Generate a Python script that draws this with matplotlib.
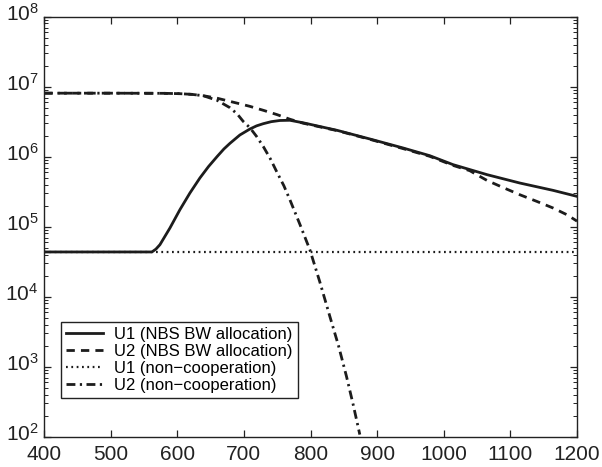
import matplotlib
matplotlib.use("Agg")
import matplotlib.pyplot as plt
from matplotlib.ticker import FixedLocator, FixedFormatter, LogLocator, NullFormatter
import matplotlib.transforms as mtransforms
import numpy as np

plt.rcParams['font.family'] = ['Liberation Sans', 'DejaVu Sans']
plt.rcParams['mathtext.fontset'] = 'custom'
plt.rcParams['mathtext.rm'] = 'Liberation Sans'

# U1 (NBS BW allocation): x and log10(utility)
u1_nbs_x = [400, 500, 562, 568, 574, 589, 604, 619, 634, 647, 660, 670, 679, 694, 709,
            719, 729, 741, 754, 769, 789, 840, 889, 939, 979, 1014, 1065, 1114, 1164, 1200]
u1_nbs_log = [4.639, 4.639, 4.639, 4.68, 4.743, 4.981, 5.243, 5.481, 5.696, 5.86,
              6.004, 6.11, 6.19, 6.31, 6.395, 6.44, 6.471, 6.50, 6.517, 6.52,
              6.484, 6.376, 6.253, 6.124, 6.014, 5.886, 5.743, 5.624, 5.519, 5.433]

# U2 (NBS BW allocation)
u2_nbs_x = [400, 500, 580, 604, 622, 639, 660, 679, 694, 709, 730, 750, 769, 789,
            840, 889, 939, 979, 1014, 1039, 1065, 1090, 1114, 1140, 1164, 1185, 1200]
u2_nbs_log = [6.907, 6.907, 6.905, 6.90, 6.89, 6.871, 6.835, 6.79, 6.755, 6.719,
              6.66, 6.60, 6.535, 6.478, 6.372, 6.248, 6.115, 6.005, 5.875, 5.80,
              5.66, 5.555, 5.457, 5.36, 5.267, 5.17, 5.079]

# U1 (non-cooperation)
u1_nc_x = [400, 1200]
u1_nc_log = [4.639, 4.639]

# U2 (non-cooperation)
u2_nc_x = [400, 500, 580, 604, 622, 639, 660, 679, 690, 699, 709, 719, 729, 740,
           750, 760, 769, 784, 799, 814, 829, 842, 854, 864, 874]
u2_nc_log = [6.907, 6.907, 6.905, 6.90, 6.89, 6.871, 6.804, 6.70, 6.61, 6.504,
             6.414, 6.29, 6.147, 5.965, 5.771, 5.585, 5.386, 5.035, 4.671, 4.21,
             3.719, 3.30, 2.861, 2.46, 2.03]

labels = ['U1 (NBS BW allocation)', 'U2 (NBS BW allocation)',
          'U1 (non\u2212cooperation)', 'U2 (non\u2212cooperation)']

xticks = [400, 500, 600, 700, 800, 900, 1000, 1100, 1200]
ydecades = [2, 3, 4, 5, 6, 7, 8]

col = '#1c1c1c'
fig = plt.figure(figsize=(6.02, 4.67), dpi=100)
ax = fig.add_axes([0.0731, 0.0649, 0.8854, 0.8994])

def pw(v):
    return 10.0 ** np.asarray(v)

ax.plot(u1_nbs_x, pw(u1_nbs_log), color=col, lw=2.0, ls='-', label=labels[0])
ax.plot(u2_nbs_x, pw(u2_nbs_log), color=col, lw=2.0, ls=(0, (3.0, 2.2)), label=labels[1])
ax.plot(u1_nc_x, pw(u1_nc_log), color=col, lw=1.6, ls=(0, (0.8, 1.6)), label=labels[2])
ax.plot(u2_nc_x, pw(u2_nc_log), color=col, lw=2.0, ls=(0, (3.2, 1.6, 0.8, 1.6)), label=labels[3])

ax.set_yscale('log')
ax.set_xlim(400, 1200)
ax.set_ylim(1e2, 1e8)
ax.xaxis.set_major_locator(FixedLocator(xticks))
ax.set_xticklabels([str(t) for t in xticks])
ax.yaxis.set_major_locator(FixedLocator([10.0 ** d for d in ydecades]))
ax.yaxis.set_major_formatter(FixedFormatter([r'$\mathregular{10^{%d}}$' % d for d in ydecades]))
ax.yaxis.set_minor_locator(LogLocator(base=10, subs=np.arange(2, 10), numticks=20))
ax.yaxis.set_minor_formatter(NullFormatter())

ax.tick_params(which='both', direction='in', top=True, right=True, colors='#222222',
               labelsize=15)
ax.tick_params(which='major', length=5, width=0.9)
ax.tick_params(which='minor', length=3, width=0.7)
ax.tick_params(axis='x', pad=6)
ax.tick_params(axis='y', pad=4)
for s in ax.spines.values():
    s.set_linewidth(1.0)
    s.set_color('#222222')

offset = mtransforms.ScaledTranslation(0, 3.5 / 72.0, fig.dpi_scale_trans)
for lab in ax.yaxis.get_majorticklabels():
    lab.set_transform(lab.get_transform() + offset)

leg = ax.legend(loc='lower left', bbox_to_anchor=(0.032, 0.093), fontsize=12,
                frameon=True, fancybox=False, framealpha=1, edgecolor='#222222',
                handlelength=2.2, handletextpad=0.7, labelspacing=0.12,
                borderpad=0.3, borderaxespad=0)
leg.get_frame().set_linewidth(1.0)

fig.savefig('out.png', dpi=100)
